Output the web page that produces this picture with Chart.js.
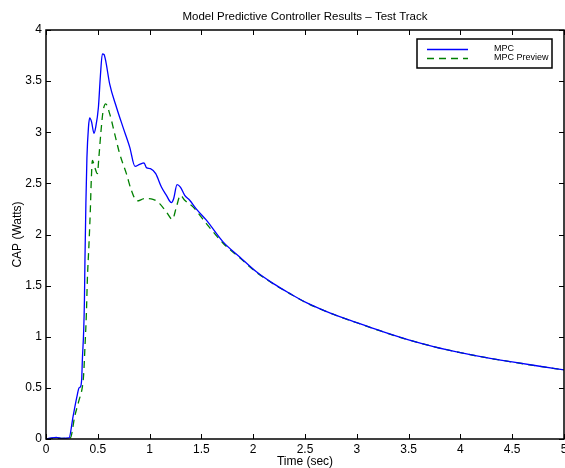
<!DOCTYPE html>
<html>
<head>
<meta charset="utf-8">
<title>Model Predictive Controller Results – Test Track</title>
<script src="https://cdn.jsdelivr.net/npm/chart.js@4"></script>
<style>
    html, body { margin: 0; padding: 0; background: #ffffff; }
    #wrap { width: 565px; height: 468px; }
</style>
</head>
<body>
<div id="wrap"><canvas id="capChart" width="565" height="468"></canvas></div>
<script>
"use strict";

/*==========================================================
    DATA
==========================================================*/

const chartTitle = "Model Predictive Controller Results – Test Track";
const xAxisTitle = "Time (sec)";
const yAxisTitle = "CAP (Watts)";

const seriesNames = ["MPC", "MPC Preview"];

const xTicks = [0, 0.5, 1, 1.5, 2, 2.5, 3, 3.5, 4, 4.5, 5];
const yTicks = [0, 0.5, 1, 1.5, 2, 2.5, 3, 3.5, 4];

const mpcTime = [
    0, 0.05, 0.1, 0.15, 0.222, 0.261, 0.299, 0.319, 0.332, 0.345,
    0.351, 0.364, 0.371, 0.376, 0.385, 0.395, 0.41, 0.422, 0.44, 0.463,
    0.48, 0.506, 0.525, 0.544, 0.56, 0.576, 0.615, 0.68, 0.743, 0.808,
    0.859, 0.904, 0.946, 0.969, 1.008, 1.059, 1.114, 1.162, 1.21, 1.232,
    1.265, 1.297, 1.339, 1.387, 1.45, 1.548, 1.709, 1.87, 2.031, 2.191,
    2.352, 2.513, 2.674, 2.835, 3.0, 3.25, 3.5, 3.75, 4, 4.25,
    4.5, 4.75, 5
];

const mpcValue = [
    0, 0.01, 0.015, 0.005, 0.01, 0.22, 0.416, 0.5, 0.51, 0.595,
    0.774, 1.066, 1.36, 1.75, 2.3, 2.75, 3.05, 3.14, 3.1, 2.99,
    3.05, 3.245, 3.55, 3.766, 3.76, 3.7, 3.47, 3.245, 3.05, 2.855,
    2.667, 2.686, 2.7, 2.654, 2.644, 2.595, 2.464, 2.383, 2.312, 2.35,
    2.488, 2.464, 2.383, 2.335, 2.25, 2.14, 1.928, 1.78, 1.635, 1.522,
    1.424, 1.333, 1.261, 1.196, 1.138, 1.05, 0.97, 0.902, 0.845, 0.796,
    0.754, 0.714, 0.676
];

const previewTime = [
    0, 0.05, 0.1, 0.15, 0.235, 0.277, 0.319, 0.351, 0.364, 0.376,
    0.39, 0.399, 0.415, 0.428, 0.437, 0.448, 0.47, 0.496, 0.51, 0.53,
    0.55, 0.576, 0.615, 0.663, 0.711, 0.776, 0.824, 0.878, 0.953, 1.033,
    1.097, 1.162, 1.22, 1.259, 1.297, 1.339, 1.419, 1.548, 1.709, 1.87,
    2.031, 2.191, 2.352, 2.513, 2.674, 2.835, 3.0, 3.25, 3.5, 3.75,
    4, 4.25, 4.5, 4.75, 5
];

const previewValue = [
    0, 0.005, 0.01, 0.005, 0.01, 0.22, 0.38, 0.51, 0.64, 0.9,
    1.23, 1.554, 1.91, 2.24, 2.53, 2.725, 2.66, 2.595, 2.75, 3.0,
    3.2, 3.278, 3.18, 2.985, 2.79, 2.595, 2.432, 2.328, 2.351, 2.344,
    2.302, 2.22, 2.149, 2.27, 2.383, 2.335, 2.27, 2.107, 1.915, 1.772,
    1.63, 1.52, 1.422, 1.332, 1.26, 1.195, 1.137, 1.049, 0.969, 0.901,
    0.844, 0.795, 0.753, 0.713, 0.675
];


/*==========================================================
    HELPERS
==========================================================*/

const FONT_FAMILY = "'Liberation Sans', Arial, Helvetica, sans-serif";

function toPoints(xs, ys) {

    return xs.map((x, i) => ({ x: x, y: ys[i] }));

}

// Matlab prints 1 and 0.5, never 1.0
const plainTick = (value) => String(value);


/*==========================================================
    PLUGIN: title centred over the axes (not the canvas)
==========================================================*/

const axesTitlePlugin = {

    id: "axesTitle",

    afterDraw(chart) {

        const ctx = chart.ctx;
        const area = chart.chartArea;

        ctx.save();
        ctx.fillStyle = "#000000";
        ctx.font = "11.5px " + FONT_FAMILY;
        ctx.textAlign = "center";
        ctx.textBaseline = "middle";
        ctx.fillText(chartTitle, (area.left + area.right) / 2, 17);
        ctx.restore();

    }

};


/*==========================================================
    PLUGIN: Matlab-style box with inward ticks on all sides
==========================================================*/

const axesBoxPlugin = {

    id: "axesBox",

    afterDatasetsDraw(chart) {

        const ctx = chart.ctx;
        const area = chart.chartArea;
        const xScale = chart.scales.x;
        const yScale = chart.scales.y;
        const tickLen = 5;

        ctx.save();
        ctx.strokeStyle = "#000000";
        ctx.lineWidth = 1;

        ctx.beginPath();

        xScale.ticks.forEach((tick) => {

            const px = Math.round(xScale.getPixelForValue(tick.value)) + 0.5;

            ctx.moveTo(px, area.bottom);
            ctx.lineTo(px, area.bottom - tickLen);
            ctx.moveTo(px, area.top);
            ctx.lineTo(px, area.top + tickLen);

        });

        yScale.ticks.forEach((tick) => {

            const py = Math.round(yScale.getPixelForValue(tick.value)) + 0.5;

            ctx.moveTo(area.left, py);
            ctx.lineTo(area.left + tickLen, py);
            ctx.moveTo(area.right, py);
            ctx.lineTo(area.right - tickLen, py);

        });

        ctx.stroke();

        ctx.lineWidth = 1.5;
        ctx.strokeRect(area.left, area.top, area.right - area.left, area.bottom - area.top);

        ctx.restore();

    }

};


/*==========================================================
    PLUGIN: legend box in the upper right of the axes
==========================================================*/

const boxLegendPlugin = {

    id: "boxLegend",

    afterDraw(chart) {

        const ctx = chart.ctx;
        const datasets = chart.data.datasets;

        const box = { left: 417, top: 39, width: 135, height: 29 };
        const rowY = [48.5, 57.5];

        ctx.save();

        ctx.fillStyle = "#ffffff";
        ctx.fillRect(box.left, box.top, box.width, box.height);
        ctx.strokeStyle = "#000000";
        ctx.lineWidth = 1.5;
        ctx.strokeRect(box.left, box.top, box.width, box.height);

        datasets.forEach((ds, i) => {

            ctx.beginPath();
            ctx.strokeStyle = ds.borderColor;
            ctx.lineWidth = ds.borderWidth;
            ctx.setLineDash(ds.borderDash || []);
            ctx.moveTo(427, Math.round(rowY[i]) + 0.5);
            ctx.lineTo(468, Math.round(rowY[i]) + 0.5);
            ctx.stroke();
            ctx.setLineDash([]);

            ctx.fillStyle = "#000000";
            ctx.font = "9px " + FONT_FAMILY;
            ctx.textBaseline = "middle";
            ctx.textAlign = "left";
            ctx.fillText(ds.label, 494, rowY[i]);

        });

        ctx.restore();

    }

};


/*==========================================================
    CHART
==========================================================*/

const capChart = new Chart(document.getElementById("capChart"), {

    type: "line",

    data: {

        datasets: [

            {
                label: seriesNames[0],
                data: toPoints(mpcTime, mpcValue),
                borderColor: "#0000ff",
                borderWidth: 1.3,
                pointRadius: 0,
                fill: false,
                cubicInterpolationMode: "monotone"
            },

            {
                label: seriesNames[1],
                data: toPoints(previewTime, previewValue),
                borderColor: "#008000",
                borderWidth: 1.3,
                borderDash: [7, 5],
                pointRadius: 0,
                fill: false,
                cubicInterpolationMode: "monotone"
            }

        ]

    },

    options: {

        responsive: false,
        animation: false,
        devicePixelRatio: 1,

        layout: {
            padding: { top: 30, right: 1, bottom: 0, left: 0 }
        },

        scales: {

            x: {
                type: "linear",
                min: 0,
                max: 5,
                afterBuildTicks: (scale) => {
                    scale.ticks = xTicks.map((v) => ({ value: v }));
                },
                afterFit: (scale) => {
                    scale.height = 29;
                    scale.paddingLeft = 0;
                    scale.paddingRight = 0;
                },
                grid: { display: false, drawTicks: false },
                border: { display: false },
                ticks: {
                    color: "#000000",
                    padding: 3,
                    maxRotation: 0,
                    autoSkip: false,
                    callback: plainTick,
                    font: { family: FONT_FAMILY, size: 12 }
                },
                title: {
                    display: true,
                    text: xAxisTitle,
                    color: "#000000",
                    padding: { top: -2, bottom: -1 },
                    font: { family: FONT_FAMILY, size: 12 }
                }
            },

            y: {
                type: "linear",
                min: 0,
                max: 4,
                afterBuildTicks: (scale) => {
                    scale.ticks = yTicks.map((v) => ({ value: v }));
                },
                afterFit: (scale) => {
                    scale.width = 46;
                    scale.paddingTop = 0;
                    scale.paddingBottom = 0;
                },
                grid: { display: false, drawTicks: false },
                border: { display: false },
                ticks: {
                    color: "#000000",
                    padding: 4,
                    autoSkip: false,
                    callback: plainTick,
                    font: { family: FONT_FAMILY, size: 12 }
                },
                title: {
                    display: true,
                    text: yAxisTitle,
                    color: "#000000",
                    padding: { top: 10, bottom: 0 },
                    font: { family: FONT_FAMILY, size: 12 }
                }
            }

        },

        plugins: {

            legend: { display: false },
            tooltip: { enabled: false },
            title: { display: false }

        }

    },

    plugins: [axesBoxPlugin, boxLegendPlugin, axesTitlePlugin]

});
</script>
</body>
</html>
